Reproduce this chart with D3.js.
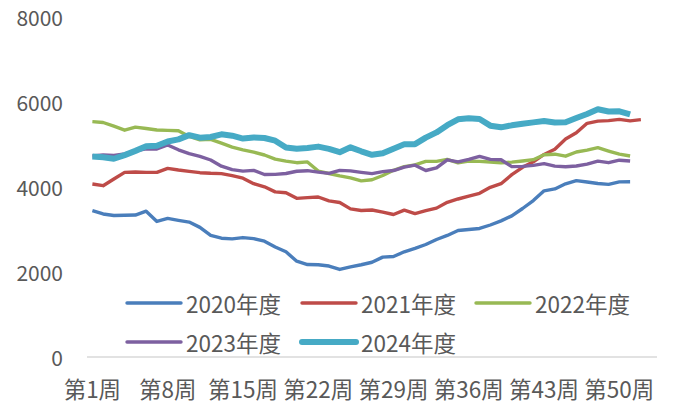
<!DOCTYPE html>
<html>
<head>
<meta charset="utf-8">
<script src="https://cdn.jsdelivr.net/npm/d3@7/dist/d3.min.js"></script>
<style>
  html, body { margin: 0; padding: 0; background: #ffffff; }
  svg { display: block; }
  text { font-family: "Noto Sans CJK SC", "Noto Sans", sans-serif; fill: #595959; }
</style>
</head>
<body>
<svg id="chart" width="677" height="405"></svg>
<script>
// Weekly categories (53 slots, labels every 7th week)
const weeks = d3.range(1, 54).map(d => "第" + d + "周");
const tickWeeks = ["第1周", "第8周", "第15周", "第22周", "第29周", "第36周", "第43周", "第50周"];
const yTicks = [0, 2000, 4000, 6000, 8000];

const seriesNames = ["2020年度", "2021年度", "2022年度", "2023年度", "2024年度"];

const v2020 = [3443, 3365, 3330, 3335, 3340, 3430, 3190, 3260, 3215, 3175,
  3050, 2860, 2795, 2780, 2810, 2785, 2725, 2590, 2475, 2255,
  2175, 2170, 2140, 2060, 2120, 2170, 2230, 2350, 2365, 2475,
  2555, 2647, 2765, 2860, 2976, 3000, 3024, 3106, 3204, 3320,
  3494, 3680, 3910, 3955, 4075, 4150, 4118, 4082, 4063, 4120, 4122];

const v2021 = [4070, 4031, 4188, 4345, 4353, 4345, 4345, 4439, 4400, 4369,
  4337, 4322, 4314, 4267, 4208, 4078, 4004, 3886, 3866, 3733,
  3749, 3765, 3674, 3635, 3486, 3447, 3458, 3408, 3353, 3455,
  3376, 3443, 3503, 3640, 3718, 3784, 3851, 3992, 4078, 4290,
  4463, 4592, 4766, 4890, 5130, 5275, 5498, 5549, 5561, 5592, 5557, 5584];

const v2022 = [5537, 5518, 5430, 5337, 5408, 5376, 5340, 5333, 5325, 5190,
  5110, 5120, 5030, 4937, 4875, 4820, 4753, 4655, 4608, 4572,
  4590, 4375, 4318, 4262, 4215, 4145, 4170, 4270, 4392, 4478,
  4522, 4604, 4604, 4650, 4570, 4610, 4604, 4588, 4568, 4585,
  4612, 4643, 4760, 4772, 4725, 4823, 4867, 4925, 4847, 4772, 4729];

const v2023 = [4730, 4755, 4745, 4780, 4850, 4900, 4895, 4990, 4875, 4785,
  4720, 4635, 4490, 4410, 4374, 4392, 4294, 4298, 4318, 4370,
  4384, 4350, 4321, 4392, 4380, 4345, 4314, 4361, 4388, 4466,
  4514, 4388, 4450, 4640, 4590, 4650, 4720, 4650, 4640, 4480,
  4486, 4510, 4549, 4490, 4475, 4494, 4537, 4608, 4572, 4631, 4612];

const v2024 = [4720, 4700, 4665, 4750, 4850, 4958, 4972, 5070, 5121, 5220,
  5160, 5176, 5239, 5208, 5140, 5165, 5153, 5090, 4930, 4900,
  4920, 4950, 4898, 4820, 4933, 4840, 4757, 4792, 4902, 5004,
  5008, 5161, 5285, 5455, 5592, 5616, 5600, 5443, 5404, 5451,
  5490, 5521, 5553, 5518, 5525, 5623, 5718, 5828, 5777, 5780, 5706];

const colors = ["#4a7ebb", "#be4b48", "#98b954", "#7d60a0", "#46aac5"];
const widths = [3.4, 3.4, 3.4, 3.4, 6];
const allValues = [v2020, v2021, v2022, v2023, v2024];

const svg = d3.select("#chart");

const x = d3.scaleBand().domain(weeks).range([87, 657]).paddingInner(0).paddingOuter(0);
const y = d3.scaleLinear().domain([0, 8000]).range([357, 17]);
const cx = w => x(w) + x.bandwidth() / 2;

// Category axis: baseline and week labels
svg.append("line")
  .attr("x1", 87).attr("x2", 657)
  .attr("y1", y(0)).attr("y2", y(0))
  .attr("stroke", "#d9d9d9").attr("stroke-width", 1.5);

svg.append("g").selectAll("text")
  .data(tickWeeks).join("text")
  .attr("x", d => cx(d))
  .attr("y", 388)
  .attr("text-anchor", "middle")
  .attr("dominant-baseline", "central")
  .attr("font-size", 22.5)
  .text(d => d);

// Value axis labels
svg.append("g").selectAll("text")
  .data(yTicks).join("text")
  .attr("x", 63)
  .attr("y", d => y(d))
  .attr("text-anchor", "end")
  .attr("dominant-baseline", "central")
  .attr("font-size", 21)
  .text(d => d);

// Series lines
const line = d3.line()
  .x((d, i) => cx(weeks[i]))
  .y(d => y(d));

allValues.forEach((vals, k) => {
  svg.append("path")
    .datum(vals)
    .attr("fill", "none")
    .attr("stroke", colors[k])
    .attr("stroke-width", widths[k])
    .attr("stroke-linejoin", "round")
    .attr("d", line);
});

// Legend
const legendPos = [
  { lx: 127, ly: 303 }, { lx: 302, ly: 303 }, { lx: 476, ly: 303 },
  { lx: 127, ly: 342 }, { lx: 302, ly: 342 }
];
const legend = svg.append("g");
seriesNames.forEach((name, k) => {
  const p = legendPos[k];
  legend.append("line")
    .attr("x1", p.lx).attr("x2", p.lx + 54)
    .attr("y1", p.ly).attr("y2", p.ly)
    .attr("stroke", colors[k])
    .attr("stroke-width", widths[k])
    .attr("stroke-linecap", "round");
  legend.append("text")
    .attr("x", p.lx + 59)
    .attr("y", p.ly)
    .attr("dominant-baseline", "central")
    .attr("font-size", 22.5)
    .text(name);
});
</script>
</body>
</html>
